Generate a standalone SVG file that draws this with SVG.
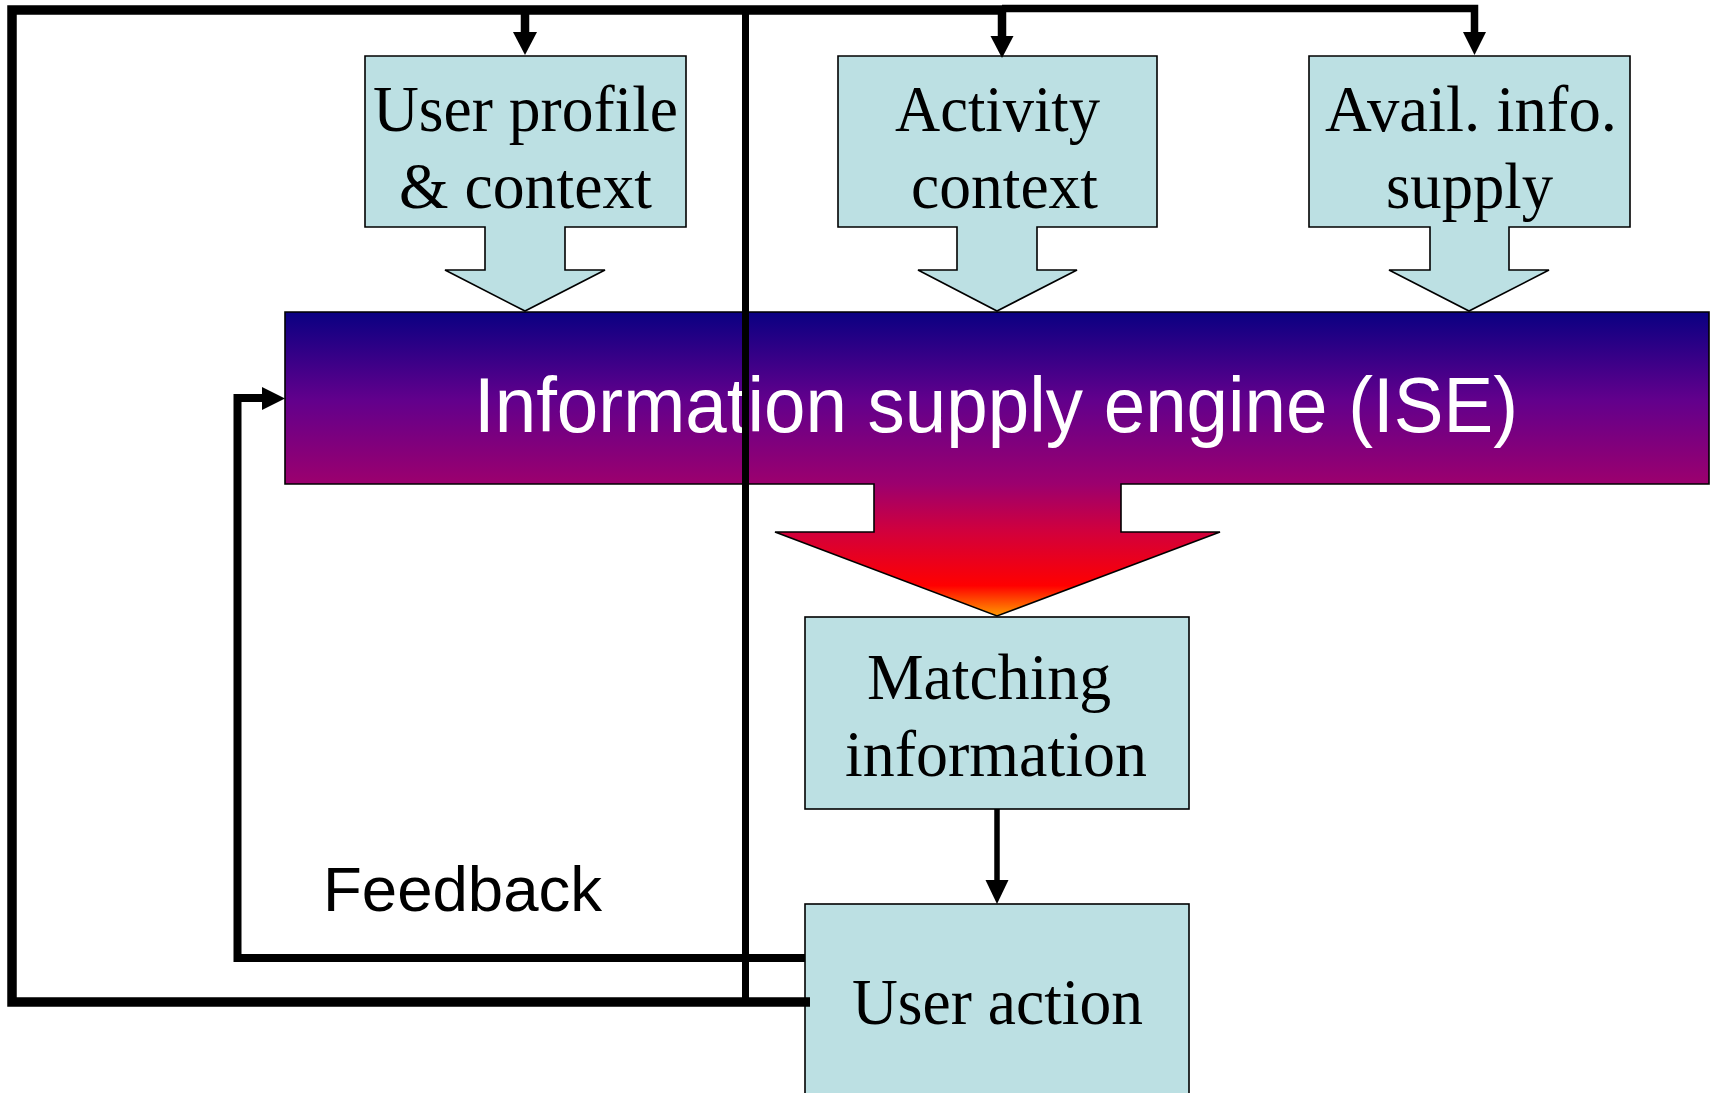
<svg xmlns="http://www.w3.org/2000/svg" width="1715" height="1093" viewBox="0 0 1715 1093">
<style>
.box{fill:#bce0e3;stroke:#000;stroke-width:1.6}
.st{font-family:"Liberation Serif","Times New Roman",serif;font-size:66px;fill:#000}
.line{fill:none;stroke:#000;stroke-linejoin:miter;stroke-linecap:butt}
.head{fill:#000}
</style>
<defs>
<linearGradient id="iseGrad" gradientUnits="userSpaceOnUse" x1="0" y1="312" x2="0" y2="616">
<stop offset="0" stop-color="#0a0082"/>
<stop offset="0.29" stop-color="#62008c"/>
<stop offset="0.566" stop-color="#9c006e"/>
<stop offset="0.724" stop-color="#d2003c"/>
<stop offset="0.9" stop-color="#ff0000"/>
<stop offset="1" stop-color="#ff9a00"/>
</linearGradient>
</defs>
<rect width="1715" height="1093" fill="#fff"/>

<g id="user-profile">
<path class="box" d="M365,56 H686 V227 H565 V270 H605 L525,311 L445,270 H485 V227 H365 Z"/>
<text class="st" x="525.5" y="131" text-anchor="middle" textLength="305" lengthAdjust="spacingAndGlyphs">User profile</text>
<text class="st" x="525.5" y="208" text-anchor="middle" textLength="253" lengthAdjust="spacingAndGlyphs">&amp; context</text>
</g>

<g id="activity-context">
<path class="box" d="M838,56 H1157 V227 H1037 V270 H1077 L997,311 L918,270 H957 V227 H838 Z"/>
<text class="st" x="997.5" y="131" text-anchor="middle" textLength="205" lengthAdjust="spacingAndGlyphs">Activity</text>
<text class="st" x="1004.5" y="208" text-anchor="middle" textLength="187" lengthAdjust="spacingAndGlyphs">context</text>
</g>

<g id="avail-info">
<path class="box" d="M1309,56 H1630 V227 H1509 V270 H1549 L1469,311 L1389,270 H1430 V227 H1309 Z"/>
<text class="st" x="1471" y="131" text-anchor="middle" textLength="292" lengthAdjust="spacingAndGlyphs">Avail. info.</text>
<text class="st" x="1469.5" y="208" text-anchor="middle" textLength="167" lengthAdjust="spacingAndGlyphs">supply</text>
</g>

<g id="ise">
<path d="M285,312 H1709 V484 H1121 V532 H1220 L997,616 L775,532 H874 V484 H285 Z" fill="url(#iseGrad)" stroke="#000" stroke-width="1.6"/>
<text x="996" y="432" text-anchor="middle" font-family="'Liberation Sans', Arial, sans-serif" font-size="77" fill="#fff" textLength="1044" lengthAdjust="spacingAndGlyphs">Information supply engine (ISE)</text>
</g>

<g id="matching-information">
<rect class="box" x="805" y="617" width="384" height="192"/>
<text class="st" x="989" y="699" text-anchor="middle" textLength="244" lengthAdjust="spacingAndGlyphs">Matching</text>
<text class="st" x="996" y="776" text-anchor="middle" textLength="302" lengthAdjust="spacingAndGlyphs">information</text>
</g>

<g id="user-action">
<rect class="box" x="805" y="904" width="384" height="200"/>
<text class="st" x="997.5" y="1024" text-anchor="middle" textLength="291" lengthAdjust="spacingAndGlyphs">User action</text>
</g>

<g id="feedback-label">
<text x="323" y="911" font-family="'Liberation Sans', Arial, sans-serif" font-size="63" fill="#000" textLength="279" lengthAdjust="spacingAndGlyphs">Feedback</text>
</g>

<g id="connectors">
<path class="line" d="M810,1002 H12 V10 H1006" stroke-width="9.5"/>
<path class="line" d="M1002,8.5 H1474.5 V34" stroke-width="7.5"/>
<polygon class="head" points="1463,32 1486,32 1474.5,55"/>
<path class="line" d="M525,10 V34" stroke-width="8.5"/>
<polygon class="head" points="513,32 537,32 525,55"/>
<path class="line" d="M1002,10 V38" stroke-width="8.5"/>
<polygon class="head" points="990.5,36 1013.5,36 1002,58"/>
<path class="line" d="M745.5,10 V1006" stroke-width="7"/>
<path class="line" d="M805,958 H237.5 V398 H264" stroke-width="8"/>
<polygon class="head" points="262,387 285,398.5 262,410"/>
<path class="line" d="M997,809 V882" stroke-width="5.5"/>
<polygon class="head" points="985.5,880 1008.5,880 997,904"/>
</g>
</svg>
